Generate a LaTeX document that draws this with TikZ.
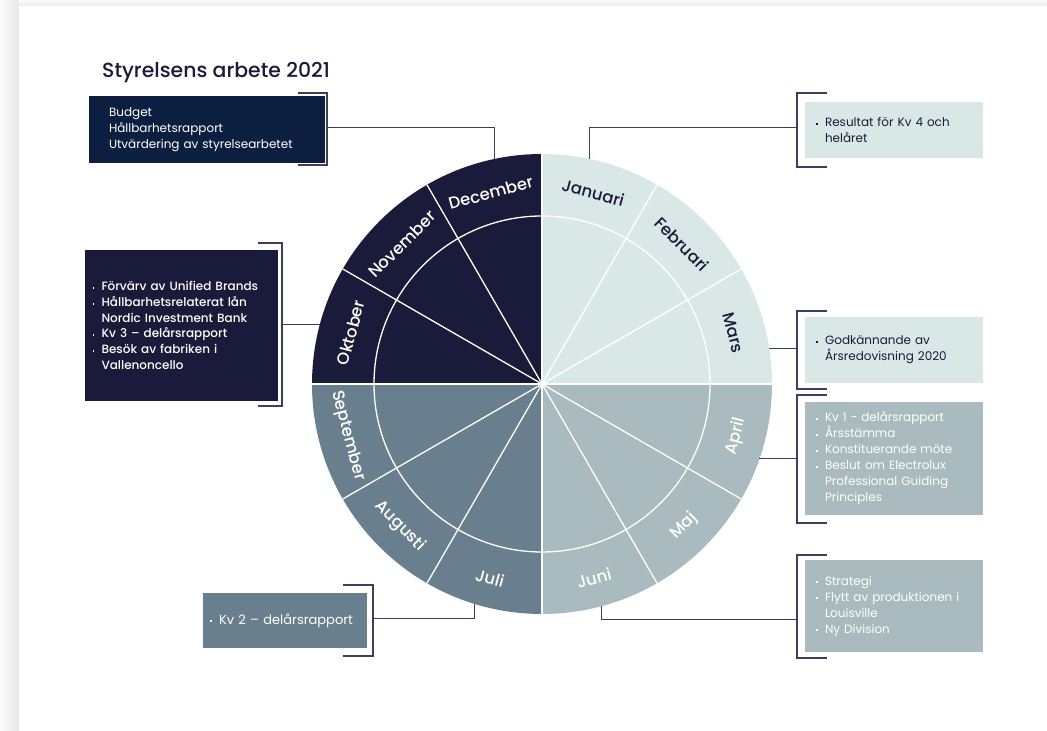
\documentclass[tikz,border=0pt]{standalone}
\usepackage{fontspec}
\setmainfont{Poppins}
\newfontfamily\pmed{Poppins Medium}
\usetikzlibrary{calc}
\definecolor{navy}{HTML}{1B1A3B}
\definecolor{cDecBox}{HTML}{0D1F40}
\definecolor{cOct}{HTML}{1A1A3A}
\definecolor{cJan}{HTML}{D9E8E6}
\definecolor{cApr}{HTML}{A9BBBE}
\definecolor{cJul}{HTML}{6A7F8E}
\definecolor{brkc}{HTML}{3C3F5E}
\newcommand{\bu}{\makebox[9pt][l]{\raisebox{0.3ex}{\rule{1.8pt}{1.8pt}}}}
\newcommand{\ind}{\hspace*{9pt}}
\begin{document}
\begin{tikzpicture}[x=1pt,y=1pt,
  wl/.style={draw=white, line width=1.3pt},
  box/.style={rectangle, inner ysep=0pt, outer sep=0pt, align=left,
    font=\fontsize{12}{16}\selectfont},
  month/.style={font=\pmed\fontsize{16.5}{16.5}\selectfont, inner sep=0pt},
  brk/.style={draw=brkc, line width=1.3pt},
  conn/.style={draw=brkc, line width=1pt}]
\useasboundingbox (0,0) rectangle (1047,731);
% page background
\fill[gray!12] (0,0) rectangle (1047,731);
\shade[left color=gray!3, right color=gray!18] (0,0) rectangle (19,731);
\shade[top color=gray!4, bottom color=gray!14] (19,725) rectangle (1047,731);
\fill[white] (19,0) rectangle (1047,725);

% title
\node[anchor=west, font=\pmed\fontsize{20.4}{20.4}\selectfont, text=navy, inner sep=0pt] (title) at (102,658) {Styrelsens arbete 2021};

% wheel
\node[circle, minimum size=460pt, inner sep=0pt, outer sep=0pt] (wheel) at (542,347) {};
\fill[cJan] (wheel.center) -- (wheel.0) arc[start angle=0, end angle=90, radius=230] -- cycle;
\fill[cOct] (wheel.center) -- (wheel.90) arc[start angle=90, end angle=180, radius=230] -- cycle;
\fill[cJul] (wheel.center) -- (wheel.180) arc[start angle=180, end angle=270, radius=230] -- cycle;
\fill[cApr] (wheel.center) -- (wheel.270) arc[start angle=270, end angle=360, radius=230] -- cycle;
\draw[wl] (wheel.center) circle[radius=168];
\foreach \a in {0,30,...,330} \draw[wl] (wheel.center) -- (wheel.\a);

% month labels
\foreach \m/\a/\c in {Januari/75/navy, Februari/45/navy, Mars/15/navy,
  December/105/white, November/135/white, Oktober/165/white}
  \node[month, text=\c, rotate=\a-90] (m\m) at ($(wheel.center)+(\a:198)$) {\m};
\foreach \m/\a in {April/-15, Maj/-45, Juni/-75, Juli/-105, Augusti/-135, September/-165}
  \node[month, text=white, rotate=\a+90] (m\m) at ($(wheel.center)+(\a:201)$) {\m};

% boxes
\node[box, fill=cDecBox, text=white, minimum width=236pt, minimum height=67pt,
  text width=196pt, inner xsep=20pt] (dec) at (207,601.5)
  {Budget\\Hållbarhetsrapport\\Utvärdering av styrelsearbetet};
\node[box, fill=cOct, text=white, minimum width=193pt, minimum height=151pt,
  text width=178pt, inner xsep=7.5pt, font=\pmed\fontsize{12}{15.7}\selectfont] (oct) at (181.5,405.5)
  {\bu Förvärv av Unified Brands\\\bu Hållbarhetsrelaterat lån\\\ind Nordic Investment Bank\\\bu Kv 3 – delårsrapport\\\bu Besök av fabriken i\\\ind Vallenoncello};
\node[box, fill=cJan, text=navy, minimum width=178pt, minimum height=56pt,
  text width=156pt, inner xsep=11pt] (jan) at (894,601)
  {\bu Resultat för Kv 4 och\\\ind helåret};
\node[box, fill=cJan, text=navy, minimum width=178pt, minimum height=66pt,
  text width=156pt, inner xsep=11pt] (mar) at (894,381)
  {\bu Godkännande av\\\ind Årsredovisning 2020};
\node[box, fill=cApr, text=white, minimum width=178pt, minimum height=113pt,
  text width=156pt, inner xsep=11pt] (apr) at (894,272.5)
  {\bu Kv 1 - delårsrapport\\\bu Årsstämma\\\bu Konstituerande möte\\\bu Beslut om Electrolux\\\ind Professional Guiding\\\ind Principles};
\node[box, fill=cApr, text=white, minimum width=178pt, minimum height=92pt,
  text width=156pt, inner xsep=11pt] (jun) at (894,125)
  {\bu Strategi\\\bu Flytt av produktionen i\\\ind Louisville\\\bu Ny Division};
\node[box, fill=cJul, text=white, minimum width=164pt, minimum height=55pt,
  text width=150pt, inner xsep=7pt, font=\fontsize{13}{16}\selectfont] (jul) at (285,110.5)
  {\bu Kv 2 – delårsrapport};

% brackets
\draw[brk] ($(dec.north east)+(-27,3)$) -| ($(dec.south east)+(2,-2)$) -- ++(-29,0);
\draw[brk] ($(oct.north east)+(-20,7)$) -| ($(oct.south east)+(4,-5)$) -- ++(-24,0);
\draw[brk] ($(jul.north east)+(-24,8)$) -| ($(jul.south east)+(6,-8)$) -- ++(-30,0);
\foreach \b/\t/\u in {jan/9/9, mar/6/6, apr/7/8, jun/5/6}
  \draw[brk] ($(\b.north west)+(22,\t)$) -| ($(\b.south west)+(-8,-\u)$) -- ++(30,0);

% connectors
\coordinate (kDec) at ($(dec.east)+(2,2)$);
\coordinate (kOct) at ($(oct.east)+(4,0)$);
\coordinate (kJan) at ($(jan.west)+(-8,2)$);
\coordinate (kMar) at ($(mar.west)+(-8,0)$);
\coordinate (kApr) at ($(apr.west)+(-8,0)$);
\coordinate (kJun) at ($(jun.west)+(-8,-14)$);
\coordinate (kJul) at ($(jul.east)+(6,2)$);
\draw[conn] (kDec) -| (wheel.102.8);
\draw[conn] (wheel.165.4) -- (wheel.165.4 -| kOct);
\draw[conn] (kJan) -| (wheel.78.7);
\draw[conn] (wheel.9) -- (wheel.9 -| kMar);
\draw[conn] (wheel.-19) -- (wheel.-19 -| kApr);
\draw[conn] (wheel.-75.6) |- (kJun);
\draw[conn] (wheel.-107.7) |- (kJul);
\end{tikzpicture}
\end{document}
